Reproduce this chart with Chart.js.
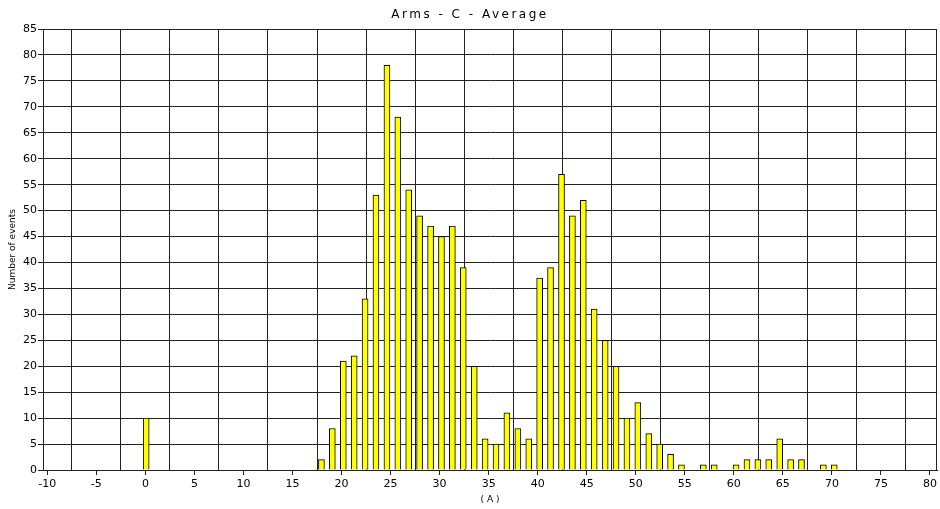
<!DOCTYPE html>
<html>
<head>
<meta charset="utf-8">
<title>Arms - C - Average</title>
<script src="https://cdn.jsdelivr.net/npm/chart.js@4.4.0/dist/chart.umd.min.js"></script>
<style>
    html, body { margin: 0; padding: 0; background: #fff; }
    #wrap { width: 940px; height: 509px; }
</style>
</head>
<body>
<div id="wrap"><canvas id="chart"></canvas></div>
<script>
const titleText = 'Arms - C - Average';
const xTitle = '( A )';
const yTitle = 'Number of events';

// histogram bins (A) and counts
const binCenters = [0.08, 17.95, 19.06, 20.18, 21.29, 22.40, 23.51, 24.63, 25.74, 26.85,
    27.96, 29.08, 30.19, 31.30, 32.41, 33.53, 34.64, 35.75, 36.86, 37.98,
    39.09, 40.20, 41.31, 42.43, 43.54, 44.65, 45.76, 46.88, 47.99, 49.10,
    50.21, 51.33, 52.44, 53.55, 54.66, 56.89, 58.00, 60.23, 61.34, 62.45,
    63.56, 64.68, 65.79, 66.90, 69.13, 70.24];
const counts = [10, 2, 8, 21, 22, 33, 53, 78, 68, 54,
    49, 47, 45, 47, 39, 20, 6, 5, 11, 8,
    6, 37, 39, 57, 49, 52, 31, 25, 20, 10,
    13, 7, 5, 3, 1, 1, 1, 1, 2, 2,
    2, 6, 2, 2, 1, 1];

// axis ticks
const xTicks = [-10, -5, 0, 5, 10, 15, 20, 25, 30, 35, 40, 45, 50, 55, 60, 65, 70, 75, 80];
const xGridLines = [-7.5, -2.5, 2.5, 7.5, 12.5, 17.5, 22.5, 27.5, 32.5, 37.5, 42.5, 47.5,
    52.5, 57.5, 62.5, 67.5, 72.5, 77.5];
const xMin = -10.44;
const xMax = 80.73;
const yMax = 85;

const lineColor = '#222';

Chart.defaults.font.family = '"DejaVu Sans", Verdana, sans-serif';
Chart.defaults.color = '#000';

// Title drawn by hand so it can be letter-spaced like the original
const spacedTitle = {
    id: 'spacedTitle',
    afterDraw(chart) {
        const ctx = chart.ctx;
        ctx.save();
        ctx.font = '12px "DejaVu Sans"';
        ctx.fillStyle = '#000';
        ctx.textAlign = 'center';
        ctx.textBaseline = 'middle';
        if ('letterSpacing' in ctx) ctx.letterSpacing = '2.5px';
        ctx.fillText(titleText, chart.width / 2, 15);
        ctx.restore();
    }
};

// Frame round the plot area
const plotFrame = {
    id: 'plotFrame',
    afterDatasetsDraw(chart) {
        const { ctx, chartArea: a } = chart;
        ctx.save();
        ctx.strokeStyle = lineColor;
        ctx.lineWidth = 1;
        ctx.strokeRect(Math.round(a.left) + 0.5, Math.round(a.top) + 0.5,
            Math.round(a.right - a.left) - 1, Math.round(a.bottom - a.top));
        ctx.restore();
    }
};

new Chart(document.getElementById('chart'), {
    type: 'bar',
    data: {
        datasets: [{
            label: 'Number of events',
            data: binCenters.map((x, i) => ({ x: x, y: counts[i] })),
            backgroundColor: '#ffff00',
            borderColor: '#000',
            borderWidth: 1,
            barThickness: 6,
            xAxisID: 'x',
            yAxisID: 'y'
        }]
    },
    options: {
        responsive: true,
        maintainAspectRatio: false,
        animation: false,
        layout: { padding: { top: 29, right: 2, bottom: 0, left: 0 } },
        plugins: {
            legend: { display: false },
            tooltip: { enabled: false },
            title: { display: false }
        },
        scales: {
            x: {
                type: 'linear',
                position: 'bottom',
                offset: false,
                min: xMin,
                max: xMax,
                afterBuildTicks: s => { s.ticks = xTicks.map(v => ({ value: v })); },
                afterFit: s => { s.height = 39; },
                grid: { drawOnChartArea: false, color: lineColor, tickLength: 5, offset: false },
                border: { color: lineColor },
                ticks: { font: { size: 11 }, padding: 3, maxRotation: 0, autoSkip: false },
                title: { display: true, text: xTitle, font: { size: 9 }, padding: { top: 0, bottom: 4 } }
            },
            x2: {
                type: 'linear',
                position: 'top',
                offset: false,
                min: xMin,
                max: xMax,
                afterBuildTicks: s => { s.ticks = xGridLines.map(v => ({ value: v })); },
                afterFit: s => { s.height = 0; },
                grid: { color: lineColor, drawTicks: false, offset: false },
                border: { display: false },
                ticks: { display: false }
            },
            y: {
                min: 0,
                max: yMax,
                afterFit: s => { s.width = 43; },
                grid: { color: lineColor, tickLength: 5 },
                border: { color: lineColor },
                ticks: { stepSize: 5, font: { size: 11 }, padding: 1 },
                title: { display: true, text: yTitle, font: { size: 9 }, padding: { top: 7, bottom: 0 } }
            }
        }
    },
    plugins: [spacedTitle, plotFrame]
});
</script>
</body>
</html>
